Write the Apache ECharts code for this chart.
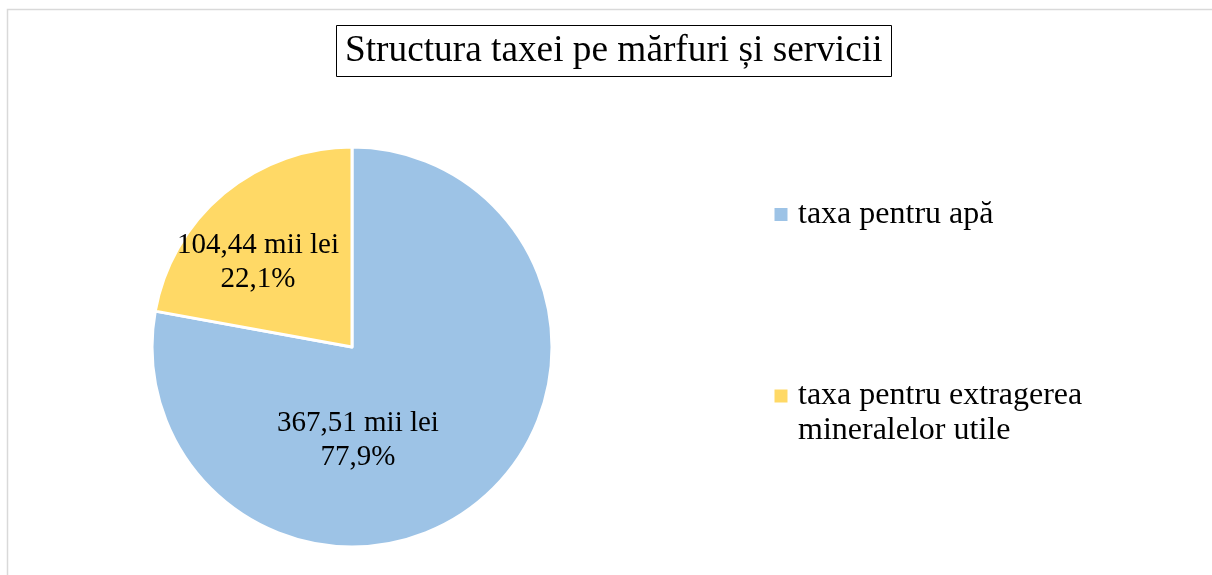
<!DOCTYPE html>
<html lang="ro" style="height: 100%">
<head>
  <meta charset="utf-8">
</head>
<body style="height: 100%; margin: 0; background: #fff">
  <div id="container" style="width: 1212px; height: 575px"></div>

  <script type="text/javascript" src="https://fastly.jsdelivr.net/npm/echarts@6/dist/echarts.min.js"></script>
  <script type="text/javascript">
    // date din grafic
    var categories = ['taxa pentru apă', 'taxa pentru extragerea mineralelor utile'];
    var values = [367.51, 104.44];
    var colors = ['#9DC3E6', '#FFD966'];

    var serif = '"Liberation Serif", "Times New Roman", serif';

    var dom = document.getElementById('container');
    var myChart = echarts.init(dom, null, { renderer: 'canvas' });

    var total = values.reduce(function (a, b) { return a + b; }, 0);
    function fmtNum(v, d) {
      return v.toFixed(d).replace('.', ',');
    }

    // deplasari ale etichetelor fata de pozitia implicita 'inside'
    var labelShift = [[-60, 14], [-28, -6]];

    var legendText = {
      fontFamily: serif,
      fontSize: 32,
      lineHeight: 35,
      color: '#000',
      padding: [0, 0, 0, 4.5]
    };

    var option = {
      animation: false,
      backgroundColor: '#fff',
      graphic: [{
        type: 'rect',
        shape: { x: 7.5, y: 9.5, width: 1400, height: 800 },
        style: { fill: 'none', stroke: '#d9d9d9', lineWidth: 1.5 },
        silent: true
      }],
      title: {
        text: 'Structura taxei pe mărfuri și servicii',
        left: 336,
        top: 25,
        padding: [4, 9],
        borderColor: '#000',
        borderWidth: 1,
        textStyle: {
          fontFamily: serif,
          fontSize: 37.3,
          fontWeight: 'normal',
          color: '#000',
          lineHeight: 44
        }
      },
      legend: [{
        orient: 'vertical',
        left: 772.5,
        top: 197,
        padding: 0,
        data: [categories[0]],
        icon: 'rect',
        itemWidth: 15,
        itemHeight: 15,
        selectedMode: false,
        textStyle: legendText
      }, {
        orient: 'vertical',
        left: 772.5,
        top: 343.5,
        padding: 0,
        data: [categories[1]],
        icon: 'rect',
        itemWidth: 15,
        itemHeight: 15,
        selectedMode: false,
        // linie goala la inceput, ca patratul sa stea in dreptul primului rand
        formatter: function (name) {
          return '\n' + name.replace('extragerea ', 'extragerea\n');
        },
        textStyle: legendText
      }],
      series: [{
        type: 'pie',
        center: [352, 347],
        radius: 200,
        startAngle: 90,
        clockwise: true,
        color: colors,
        itemStyle: { borderColor: '#fff', borderWidth: 3 },
        label: {
          show: true,
          position: 'inside',
          fontFamily: serif,
          fontSize: 29,
          lineHeight: 34,
          color: '#000',
          formatter: function (p) {
            return fmtNum(p.value, 2) + ' mii lei\n' + fmtNum(p.value / total * 100, 1) + '%';
          }
        },
        labelLayout: function (p) {
          var s = labelShift[p.dataIndex];
          return { dx: s[0], dy: s[1] };
        },
        emphasis: { disabled: true },
        data: categories.map(function (c, i) {
          return { name: c, value: values[i] };
        })
      }]
    };

    myChart.setOption(option);
    window.addEventListener('resize', myChart.resize);
  </script>
</body>
</html>
